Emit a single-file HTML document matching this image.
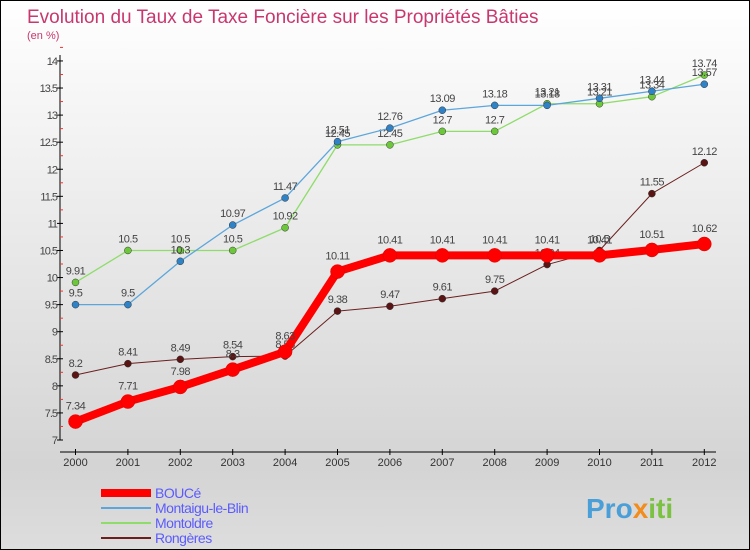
<!DOCTYPE html>
<html><head><meta charset="utf-8"><style>
body{margin:0}
#c{position:relative;width:748px;height:548px;border:1px solid #000;background:linear-gradient(#fff,#d4d4d4 85%,#ddd);font-family:"Liberation Sans",sans-serif;overflow:hidden}
text{font-family:"Liberation Sans",sans-serif}
</style></head><body>
<div id="c">
<svg id="s" width="748" height="548">
<text x="26" y="22" font-size="19" fill="#c8376e">Evolution du Taux de Taxe Foncière sur les Propriétés Bâties</text>
<text x="26" y="38" font-size="11" fill="#c8376e">(en %)</text>
<g id="g"></g>
<text x="585" y="517" font-size="28" font-weight="bold"><tspan fill="#4a9fd8">Pro</tspan><tspan fill="#f28c1c">x</tspan><tspan fill="#7cc242">iti</tspan></text>
</svg>
</div>
<script>
const years=[2000,2001,2002,2003,2004,2005,2006,2007,2008,2009,2010,2011,2012];
const bouce=[7.34,7.71,7.98,8.3,8.63,10.11,10.41,10.41,10.41,10.41,10.41,10.51,10.62];
const montaigu=[9.5,9.5,10.3,10.97,11.47,12.51,12.76,13.09,13.18,13.18,13.31,13.44,13.57];
const montoldre=[9.91,10.5,10.5,10.5,10.92,12.45,12.45,12.7,12.7,13.21,13.21,13.34,13.74];
const rongeres=[8.2,8.41,8.49,8.54,8.55,9.38,9.47,9.61,9.75,10.24,10.5,11.55,12.12];
const yTicks=[7,7.5,8,8.5,9,9.5,10,10.5,11,11.5,12,12.5,13,13.5,14];
const names=["BOUCé","Montaigu-le-Blin","Montoldre","Rongères"];
const ns="http://www.w3.org/2000/svg";
const g=document.getElementById('g');
const X=i=>74.5+i*52.4, Y=v=>439-(v-7)*54.15;
function el(t,a,p){const e=document.createElementNS(ns,t);for(const k in a)e.setAttribute(k,a[k]);(p||g).appendChild(e);return e;}
let e=el('line',{x1:59,y1:54,x2:59,y2:439,stroke:'#000'});


e=el('line',{x1:59,y1:451,x2:715,y2:451,stroke:'#000'});


yTicks.forEach(v=>{
 el('line',{x1:56,y1:Y(v),x2:62,y2:Y(v),stroke:'#000'});
 el('line',{x1:59,y1:Y(v+0.25),x2:62,y2:Y(v+0.25),stroke:'#e33'});
 const t=el('text',{x:56,y:Y(v)+4,'font-size':11,fill:'#444','text-anchor':'end','letter-spacing':'-1'});t.textContent=v;
 
 
});
years.forEach((yr,i)=>{
 el('line',{x1:X(i),y1:448,x2:X(i),y2:454,stroke:'#000'});
 const t=el('text',{x:X(i),y:465,'font-size':11,fill:'#333','text-anchor':'middle'});t.textContent=yr;
 
 
});
const series=[[rongeres,'#6b1f1f','#5a1414',1,3.5],[montoldre,'#8fdc6a','#6cc83a',1.3,3.5],[montaigu,'#5ca6dc','#2f82c6',1.3,3.5],[bouce,'#f00','#f00',8,7]];
series.forEach(([d,lc,pc,w,r],si)=>{
 const p=el('polyline',{points:d.map((v,i)=>X(i)+','+Y(v)).join(' '),fill:'none',stroke:lc,'stroke-width':w,'stroke-linejoin':'round'});
 
 
 d.forEach((v,i)=>{
  const c=el('circle',{cx:X(i),cy:Y(v),r:r,fill:pc,stroke:si==3?'#d00':'#333','stroke-width':0.5});
  
  
  const t=el('text',{x:X(i),y:Y(v)-(si==3?12:8),'font-size':11,fill:'#444','text-anchor':'middle','letter-spacing':'-0.5'});t.textContent=v;
  
  
 });
});
const lc=['#f00','#5ca6dc','#8fdc6a','#6b1f1f'],lw=[8,2,2,2];
names.forEach((n,i)=>{
 const y=492+i*15;
 const l=el('line',{x1:100,y1:y,x2:150,y2:y,stroke:lc[i],'stroke-width':lw[i]});
 
 
 const t=el('text',{x:154,y:y+5,'font-size':14,fill:'#5b5bff','letter-spacing':'-0.5'});t.textContent=n;
 
 
});
</script>
</body></html>
